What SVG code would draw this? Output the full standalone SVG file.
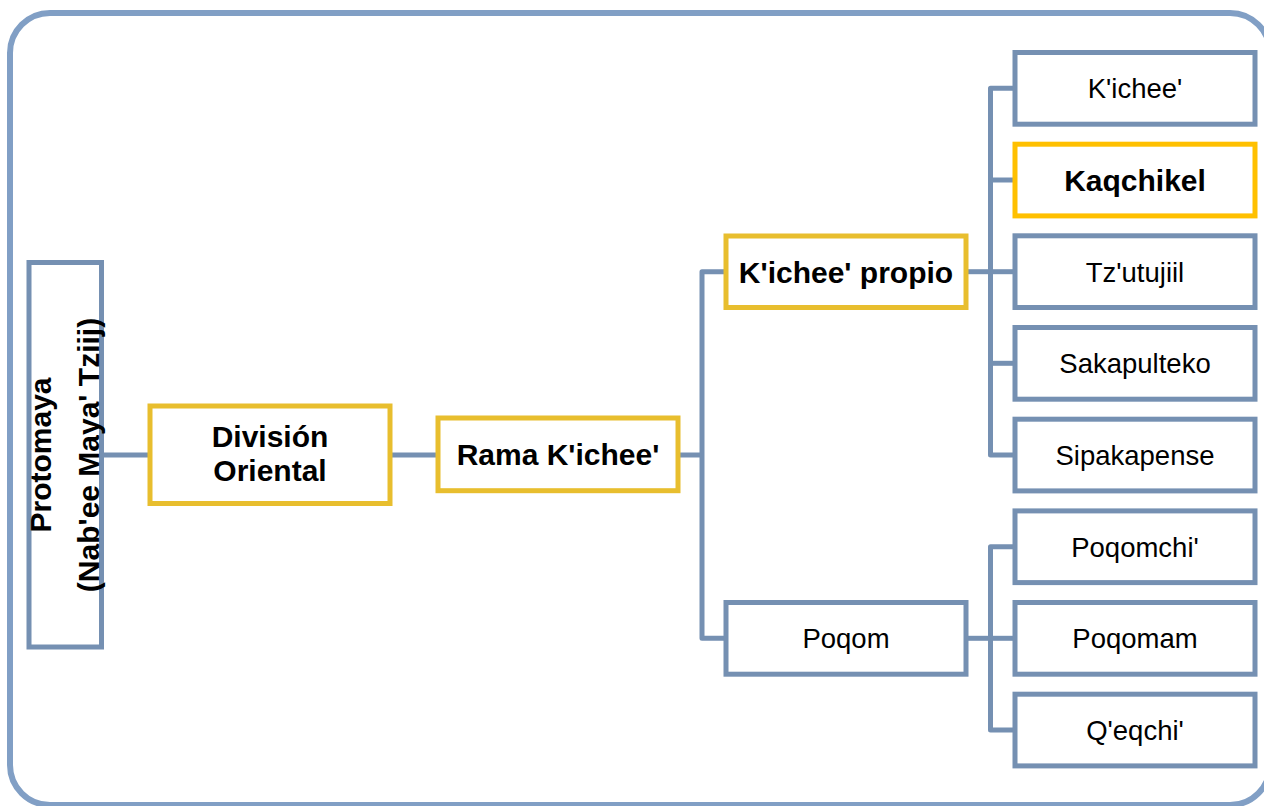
<svg xmlns="http://www.w3.org/2000/svg" width="1264" height="806" viewBox="0 0 1264 806">
  <style>
    .frame { fill: #ffffff; stroke: #819fc5; stroke-width: 6; }
    .box { fill: #ffffff; stroke: #7590b2; stroke-width: 5; }
    .hl { fill: #ffffff; stroke: #e8be2e; stroke-width: 5; }
    .hl2 { fill: #ffffff; stroke: #ffc000; stroke-width: 5; }
    .conn { fill: none; stroke: #7590b2; stroke-width: 5; stroke-linejoin: round; }
    .t { font-family: "Liberation Sans", Arial, sans-serif; font-size: 27.5px; fill: #000000; text-anchor: middle; }
    .b { font-family: "Liberation Sans", Arial, sans-serif; font-size: 30px; font-weight: bold; fill: #000000; text-anchor: middle; }
  </style>
  <rect x="0" y="0" width="1264" height="806" fill="#ffffff"/>
  <rect class="frame" x="10" y="13" width="1260" height="792" rx="40" ry="40"/>

  <g id="connectors">
    <path class="conn" d="M101.5,455 H150"/>
    <path class="conn" d="M390,455 H438"/>
    <path class="conn" d="M678,455 H702"/>
    <path class="conn" d="M726,271.7 H702 V638.3 H726"/>
    <path class="conn" d="M966,271.7 H990.5"/>
    <path class="conn" d="M1015,88.3 H990.5 V455 H1015"/>
    <path class="conn" d="M990.5,180 H1015"/>
    <path class="conn" d="M990.5,271.7 H1015"/>
    <path class="conn" d="M990.5,363.3 H1015"/>
    <path class="conn" d="M966,638.3 H990.5"/>
    <path class="conn" d="M1015,546.7 H990.5 V730 H1015"/>
    <path class="conn" d="M990.5,638.3 H1015"/>
  </g>

  <g id="protomaya">
    <rect class="box" x="29" y="262.5" width="72.5" height="384.5"/>
    <text class="b" font-size="31" transform="translate(51,455) rotate(-90)">Protomaya</text>
    <text class="b" transform="translate(99,455) rotate(-90)">(Nab'ee Maya' Tziij)</text>
  </g>

  <g id="division-oriental">
    <rect class="hl" x="150" y="406" width="240" height="97.5"/>
    <text class="b" x="270" y="446.7">División</text>
    <text class="b" x="270" y="480.7">Oriental</text>
  </g>

  <g id="rama-kichee">
    <rect class="hl" x="438" y="418" width="240" height="72.7"/>
    <text class="b" x="558" y="465">Rama K'ichee'</text>
  </g>

  <g id="kichee-propio">
    <rect class="hl" x="726" y="236" width="240" height="71.5"/>
    <text class="b" x="846" y="282.5">K'ichee' propio</text>
  </g>

  <g id="poqom">
    <rect class="box" x="726" y="602.5" width="240" height="71.7"/>
    <text class="t" x="846" y="648">Poqom</text>
  </g>

  <g id="kichee">
    <rect class="box" x="1015" y="52.5" width="240" height="71.7"/>
    <text class="t" x="1135" y="98.2">K'ichee'</text>
  </g>

  <g id="kaqchikel">
    <rect class="hl2" x="1015" y="144.2" width="240" height="71.7"/>
    <text class="b" x="1135" y="190.8">Kaqchikel</text>
  </g>

  <g id="tzutujiil">
    <rect class="box" x="1015" y="235.8" width="240" height="71.7"/>
    <text class="t" x="1135" y="281.5">Tz'utujiil</text>
  </g>

  <g id="sakapulteko">
    <rect class="box" x="1015" y="327.5" width="240" height="71.7"/>
    <text class="t" x="1135" y="373.2">Sakapulteko</text>
  </g>

  <g id="sipakapense">
    <rect class="box" x="1015" y="419.2" width="240" height="71.7"/>
    <text class="t" x="1135" y="464.8">Sipakapense</text>
  </g>

  <g id="poqomchi">
    <rect class="box" x="1015" y="510.9" width="240" height="71.7"/>
    <text class="t" x="1135" y="556.5">Poqomchi'</text>
  </g>

  <g id="poqomam">
    <rect class="box" x="1015" y="602.5" width="240" height="71.7"/>
    <text class="t" x="1135" y="648.2">Poqomam</text>
  </g>

  <g id="qeqchi">
    <rect class="box" x="1015" y="694.2" width="240" height="71.7"/>
    <text class="t" x="1135" y="739.8">Q'eqchi'</text>
  </g>
</svg>
